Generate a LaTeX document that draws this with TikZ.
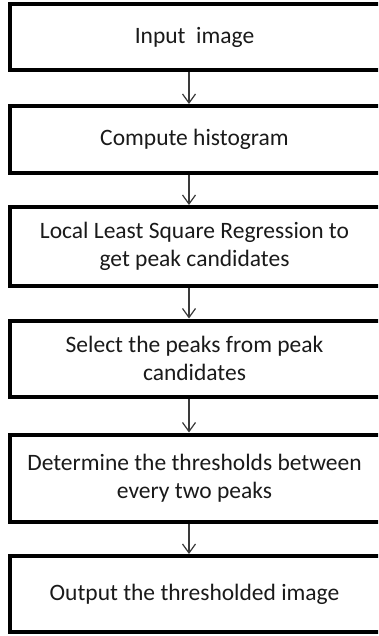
\documentclass[tikz,border=0pt]{standalone}
\usepackage{fontspec}
\setmainfont{Carlito}
\usetikzlibrary{arrows.meta}
\definecolor{ink}{HTML}{1A1A1A}
\definecolor{arrowgray}{HTML}{3A3A3A}
\tikzset{
  stepbox/.style={draw=black, line width=4pt, rectangle, fill=white,
    minimum width=376pt, inner sep=0pt},
  steptext/.style={text=ink, align=center, inner sep=0pt,
    font=\fontsize{23.5}{28}\selectfont},
  flow/.style={draw=arrowgray, line width=1.2pt,
    -{Straight Barb[length=9pt,width=13pt,line width=1.2pt]}},
}
\begin{document}
\begin{tikzpicture}[x=1pt,y=-1pt]
  \clip (0,0) rectangle (378,636);
  \fill[white] (0,0) rectangle (378,636);
  % process steps, top to bottom
  \node[stepbox, minimum height=66.5pt] (b1) at (198,37.25) {};
  \node[stepbox, minimum height=67pt]   (b2) at (198,139.5) {};
  \node[stepbox, minimum height=79pt]   (b3) at (198,246.5) {};
  \node[stepbox, minimum height=76.5pt] (b4) at (198,358.75) {};
  \node[stepbox, minimum height=87pt]   (b5) at (198,478) {};
  \node[stepbox, minimum height=76pt]   (b6) at (198,594) {};
  % step captions
  \node[steptext] (t1) at (194.5,37.5) {Input~ image};
  \node[steptext] (t2) at (194.5,139.5) {Compute histogram};
  \node[steptext] (t3) at (194.5,246.5) {Local Least Square Regression to\\get peak candidates};
  \node[steptext] (t4) at (194.5,358.75) {Select the peaks from peak\\candidates};
  \node[steptext] (t5) at (194.5,478) {Determine the thresholds between\\every two peaks};
  \node[steptext] (t6) at (194.5,594) {Output the thresholded image};
  % connectors run down a common vertical
  \coordinate (ax) at (189,0);
  \draw[flow] (b1.south -| ax) -- (b2.north -| ax);
  \draw[flow] (b2.south -| ax) -- (b3.north -| ax);
  \draw[flow] (b3.south -| ax) -- (b4.north -| ax);
  \draw[flow] (b4.south -| ax) -- (b5.north -| ax);
  \draw[flow] (b5.south -| ax) -- (b6.north -| ax);
\end{tikzpicture}
\end{document}
